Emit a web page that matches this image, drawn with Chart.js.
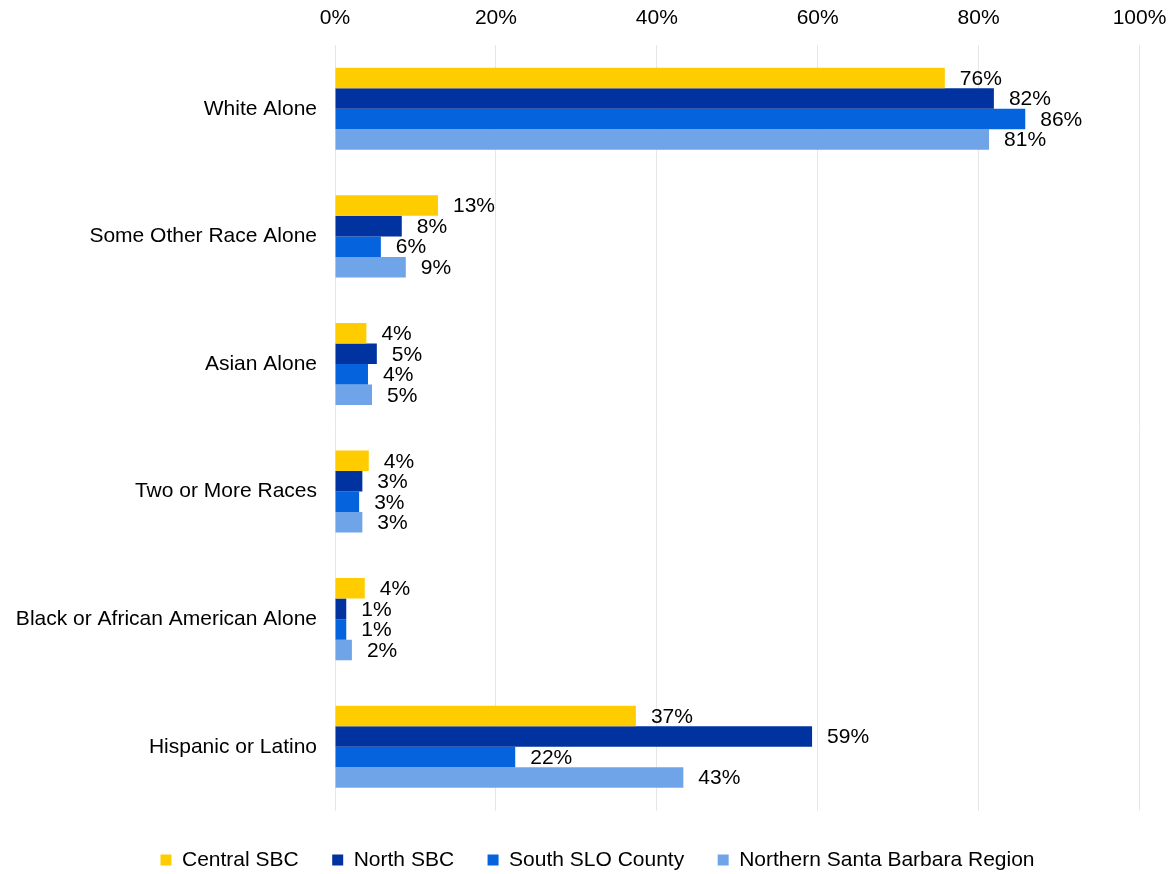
<!DOCTYPE html>
<html>
<head>
<meta charset="utf-8">
<script src="https://cdn.jsdelivr.net/npm/chart.js@4/dist/chart.umd.min.js"></script>
<style>
  html, body { margin: 0; padding: 0; background: #fff; }
  #wrap { width: 1173px; height: 874px; }
</style>
</head>
<body>
<div id="wrap"><canvas id="c" width="1173" height="874"></canvas></div>
<script>
const categories = ["White Alone", "Some Other Race Alone", "Asian Alone", "Two or More Races", "Black or African American Alone", "Hispanic or Latino"];
const seriesNames = ["Central SBC", "North SBC", "South SLO County", "Northern Santa Barbara Region"];
const centralSBC = [75.8, 12.8, 3.9, 4.2, 3.7, 37.4];
const northSBC = [81.9, 8.3, 5.2, 3.4, 1.4, 59.3];
const southSLO = [85.8, 5.7, 4.1, 3.0, 1.4, 22.4];
const northernSBRegion = [81.3, 8.8, 4.6, 3.4, 2.1, 43.3];
const xTicks = [0, 20, 40, 60, 80, 100];
const colors = ["#FFCC00", "#0033A0", "#0563DD", "#6FA5E8"];

const FONT = "'Liberation Sans', Arial, sans-serif";
const FS = 21;

const labelPlugin = {
  id: 'barLabels',
  afterInit(chart) {
    const lg = chart.legend;
    if (lg) {
      const orig = lg.fit.bind(lg);
      lg.fit = function () { orig(); this.height = 63.5; };
    }
  },
  afterLayout(chart) {
    const lg = chart.legend;
    if (lg) {
      lg.top += 5.5; lg.bottom += 5.5;
      lg.left += 22.75; lg.right += 22.75;
    }
  },
  afterDatasetsDraw(chart) {
    const ctx = chart.ctx;
    ctx.save();
    ctx.font = FS + "px " + FONT;
    ctx.fillStyle = "#000";
    ctx.textAlign = "left";
    ctx.textBaseline = "middle";
    chart.data.datasets.forEach((ds, di) => {
      const meta = chart.getDatasetMeta(di);
      meta.data.forEach((bar, i) => {
        const v = ds.data[i];
        ctx.fillText(Math.round(v) + "%", bar.x + 15, bar.y + 1);
      });
    });
    ctx.restore();
  }
};

const seriesData = [centralSBC, northSBC, southSLO, northernSBRegion];

new Chart(document.getElementById('c'), {
  type: 'bar',
  data: {
    labels: categories,
    datasets: seriesNames.map((n, i) => ({
      label: n,
      data: seriesData[i],
      backgroundColor: colors[i],
      borderWidth: 0,
      categoryPercentage: 0.643,
      barPercentage: 1.0
    }))
  },
  options: {
    indexAxis: 'y',
    responsive: false,
    animation: false,
    devicePixelRatio: 1,
    layout: { padding: { left: 10, right: 33.5, top: 0, bottom: 0 } },
    plugins: {
      legend: {
        position: 'bottom',
        labels: {
          font: { family: FONT, size: FS },
          color: '#000',
          boxWidth: 11,
          boxHeight: 11,
          padding: 33.5
        }
      },
      tooltip: { enabled: false }
    },
    scales: {
      x: {
        position: 'top',
        min: 0,
        max: 100,
        afterBuildTicks(scale) { scale.ticks = xTicks.map(v => ({ value: v })); },
        afterFit(scale) { scale.height = 45; scale.paddingLeft = 0; scale.paddingRight = 0; },
        ticks: {
          font: { family: FONT, size: FS },
          color: '#000',
          padding: 14,
          callback: v => v + '%'
        },
        grid: { color: '#e6e6e6', drawTicks: false, lineWidth: 1 },
        border: { display: false }
      },
      y: {
        afterFit(scale) { scale.width = 325; },
        ticks: {
          font: { family: FONT, size: FS },
          color: '#000',
          padding: 18
        },
        grid: { display: false, drawTicks: false },
        border: { display: false }
      }
    }
  },
  plugins: [labelPlugin]
});
</script>
</body>
</html>
